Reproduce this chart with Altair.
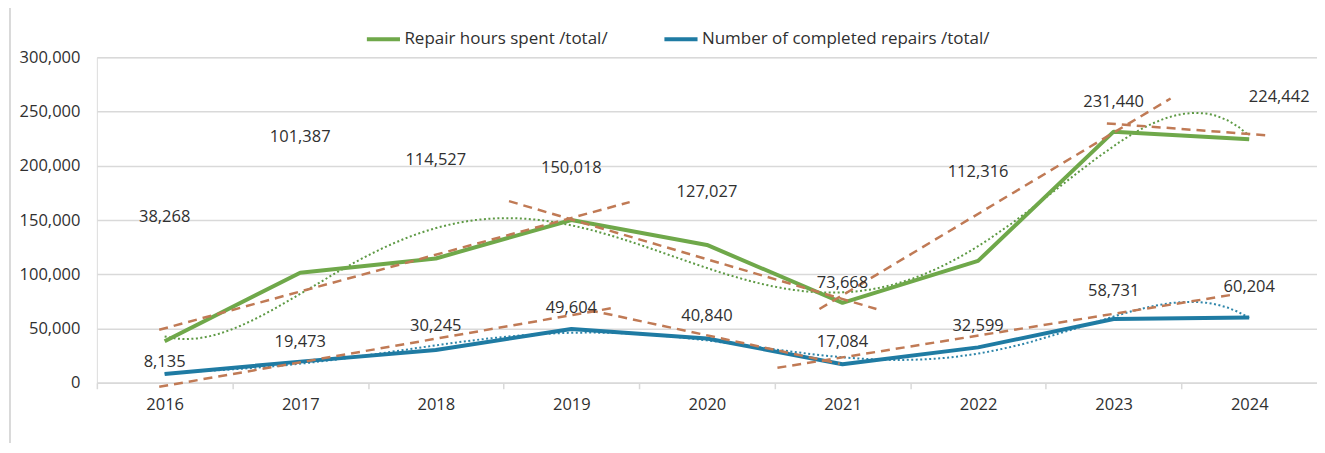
import altair as alt
import pandas as pd

# ---------------- data ----------------
years = [2016, 2017, 2018, 2019, 2020, 2021, 2022, 2023, 2024]
repair_hours = [38268, 101387, 114527, 150018, 127027, 73668, 112316, 231440, 224442]
completed_repairs = [8135, 19473, 30245, 49604, 40840, 17084, 32599, 58731, 60204]

series_names = ["Repair hours spent /total/", "Number of completed repairs /total/"]

# dashed linear trend segments (start year, start value, end year, end value)
green_trend_x0 = [2015.96, 2018.54, 2020.83, 2022.95]
green_trend_y0 = [48800, 167400, 68000, 239000]
green_trend_x1 = [2019.43, 2021.25, 2023.42, 2024.14]
green_trend_y1 = [166500, 68000, 262000, 228000]

blue_trend_x0 = [2015.96, 2019.13, 2020.52]
blue_trend_y0 = [-3700, 67000, 13800]
blue_trend_x1 = [2019.31, 2020.98, 2023.87]
blue_trend_y1 = [69000, 17500, 81000]

# ---------------- layout / style ----------------
WIDTH = 1222
HEIGHT = 326
Y_MAX = 300000
PX_PER_VALUE = HEIGHT / Y_MAX
PX_PER_YEAR = WIDTH / 9
GREEN_POLY_ORDER = 5
BLUE_POLY_ORDER = 6

GREEN = "#6FA84A"
BLUE = "#1F7BA3"
TREND = "#C07A55"
GREEN_DOT = "#5E9A45"
BLUE_DOT = "#2F86AA"
TEXT = "#303030"
GRID = "#D9D9D9"
FONT = "Open Sans"
FS = 16.5

# label offsets in pixels (negative = upward)
green_label_dy = [-124, -136, -99, -52, -53, -20, -89, -30, -42]
green_label_dx = [0, 0, 0, 0, 0, 0, 0, 0, 30]
blue_label_dy = [-12, -20, -24, -21, -22, -22, -21, -28, -30]
blue_label_dx = [0, 0, 0, 0, 0, 0, 0, 0, 0]

# ---------------- tables ----------------
main = pd.DataFrame({
    "year": years * 2,
    "value": repair_hours + completed_repairs,
    "series": [series_names[0]] * len(years) + [series_names[1]] * len(years),
})

labels = pd.DataFrame({
    "value": repair_hours + completed_repairs,
    "label_x": [y + dx / PX_PER_YEAR for y, dx in zip(years, green_label_dx)]
    + [y + dx / PX_PER_YEAR for y, dx in zip(years, blue_label_dx)],
    "label_y": [v - dy / PX_PER_VALUE for v, dy in zip(repair_hours, green_label_dy)]
    + [v - dy / PX_PER_VALUE for v, dy in zip(completed_repairs, blue_label_dy)],
})

seg_rows = []
for i, (a, b, c, d) in enumerate(zip(green_trend_x0, green_trend_y0, green_trend_x1, green_trend_y1)):
    seg_rows.append({"seg": f"g{i}", "year": a, "value": b})
    seg_rows.append({"seg": f"g{i}", "year": c, "value": d})
for i, (a, b, c, d) in enumerate(zip(blue_trend_x0, blue_trend_y0, blue_trend_x1, blue_trend_y1)):
    seg_rows.append({"seg": f"b{i}", "year": a, "value": b})
    seg_rows.append({"seg": f"b{i}", "year": c, "value": d})
segs = pd.DataFrame(seg_rows)

# ---------------- scales ----------------
x_scale = alt.Scale(domain=[2015.5, 2024.5], nice=False, zero=False)
y_scale = alt.Scale(domain=[0, Y_MAX], nice=False)

x_axis = alt.Axis(
    values=years, format="d", title=None, grid=False,
    tickOffset=-PX_PER_YEAR / 2, labelOffset=PX_PER_YEAR / 2,
    tickSize=6, tickColor=GRID, tickWidth=1.5,
    domainColor=GRID, domainWidth=1.5,
    labelFontSize=FS, labelFont=FONT, labelColor=TEXT, labelPadding=8,
)
y_axis = alt.Axis(
    values=[0, 50000, 100000, 150000, 200000, 250000, 300000], format=",d",
    title=None, grid=True, gridColor=GRID, gridWidth=1.5,
    domain=False, ticks=False,
    labelFontSize=FS, labelFont=FONT, labelColor=TEXT, labelPadding=17,
)

base = alt.Chart(main)

lines = base.mark_line(strokeWidth=4, strokeJoin="round").encode(
    x=alt.X("year:Q", scale=x_scale, axis=x_axis),
    y=alt.Y("value:Q", scale=y_scale, axis=y_axis),
    color=alt.Color(
        "series:N",
        scale=alt.Scale(domain=series_names, range=[GREEN, BLUE]),
        legend=alt.Legend(
            title=None, orient="none", legendX=268, legendY=-37,
            direction="horizontal", symbolType="stroke", symbolStrokeWidth=4,
            symbolSize=1100, labelFontSize=17, labelFont=FONT, labelColor=TEXT,
            labelOffset=2, columnPadding=48, labelLimit=500,
        ),
    ),
)

dotted_green = alt.Chart(main).transform_filter(
    alt.datum.series == series_names[0]
).transform_regression(
    "year", "value", method="poly", order=GREEN_POLY_ORDER, extent=[2016, 2024]
).mark_line(strokeWidth=2, strokeDash=[2, 2.5], color=GREEN_DOT).encode(
    x=alt.X("year:Q", scale=x_scale), y=alt.Y("value:Q", scale=y_scale)
)

dotted_blue = alt.Chart(main).transform_filter(
    alt.datum.series == series_names[1]
).transform_regression(
    "year", "value", method="poly", order=BLUE_POLY_ORDER, extent=[2016, 2024]
).mark_line(strokeWidth=2, strokeDash=[2, 2.5], color=BLUE_DOT).encode(
    x=alt.X("year:Q", scale=x_scale), y=alt.Y("value:Q", scale=y_scale)
)

dashed = alt.Chart(segs).mark_line(
    strokeWidth=2.5, strokeDash=[9, 6], color=TREND
).encode(
    x=alt.X("year:Q", scale=x_scale),
    y=alt.Y("value:Q", scale=y_scale),
    detail="seg:N",
)

text = alt.Chart(labels).mark_text(
    fontSize=FS, font=FONT, color=TEXT, align="center", baseline="middle"
).encode(
    x=alt.X("label_x:Q", scale=x_scale),
    y=alt.Y("label_y:Q", scale=y_scale),
    text=alt.Text("value:Q", format=","),
)

frame_left = alt.Chart(main).mark_rule(color=GRID, strokeWidth=1.5).encode(
    x=alt.value(-87), y=alt.value(-51), y2=alt.value(400)
)
frame_top = alt.Chart(main).mark_rule(color=GRID, strokeWidth=1.5).encode(
    x=alt.value(-87), x2=alt.value(WIDTH + 10), y=alt.value(-51)
)

chart = alt.layer(
    frame_left, frame_top, dotted_green, dotted_blue, lines, dashed, text
).properties(
    width=WIDTH, height=HEIGHT,
    autosize=alt.AutoSizeParams(type="none"),
    padding={"left": 89, "top": 49, "right": 0, "bottom": 60},
).configure_view(stroke=None).configure(background="white")

chart.save("out.html", embed_options={"renderer": "svg", "actions": False})
